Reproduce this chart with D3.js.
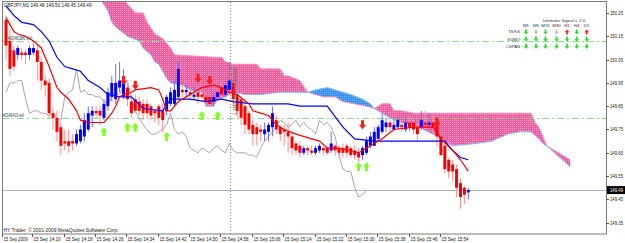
<!DOCTYPE html>
<html><head><meta charset="utf-8">
<script src="https://cdn.jsdelivr.net/npm/d3@7"></script>
<style>html,body{margin:0;padding:0;background:#fff;overflow:hidden}text{font-family:"Liberation Sans",Arial,sans-serif}</style>
</head><body>
<svg id="c" width="625" height="243"></svg>
<script>
const symbolTitle = "GBPJPY,M1 149.48 149.50 149.45 149.49";
const copyrightText = "HY Trader, \u00a9 2001-2009 MetaQuotes Software Corp.";
const open = [150.22,150.13,150.09,150.07,150.08,150.08,150.07,150.08,150.09,150.04,149.96,149.95,149.82,149.80,149.76,149.70,149.70,149.70,149.69,149.70,
149.72,149.75,149.81,149.83,149.83,149.80,149.85,149.89,149.88,149.93,149.89,149.93,149.87,149.88,149.87,149.86,149.86,149.85,149.83,149.85,
149.83,149.83,149.86,149.86,149.89,149.92,149.91,149.91,149.89,149.91,149.90,149.89,149.89,149.87,149.89,149.93,149.90,149.92,149.95,149.90,
149.88,149.85,149.82,149.77,149.76,149.75,149.73,149.74,149.76,149.79,149.76,149.75,149.74,149.72,149.69,149.68,149.65,149.67,149.66,149.65,
149.66,149.67,149.67,149.66,149.68,149.67,149.67,149.68,149.67,149.66,149.65,149.64,149.65,149.68,149.68,149.71,149.74,149.76,149.78,149.75,
149.76,149.77,149.75,149.78,149.78,149.76,149.76,149.78,149.77,149.78,149.77,149.72,149.68,149.62,149.60,149.58,149.52,149.50,149.48];
const high = [150.24,150.18,150.11,150.11,150.10,150.09,150.11,150.12,150.11,150.06,149.98,149.97,149.84,149.83,149.78,149.75,149.75,149.73,149.75,149.77,
149.82,149.85,149.85,149.85,149.85,149.88,149.93,149.98,150.03,150.04,150.01,149.95,149.90,149.90,149.89,149.88,149.88,149.86,149.84,149.86,
149.86,149.90,149.93,149.96,150.04,149.94,149.94,149.93,149.93,149.93,149.92,149.91,149.90,149.90,149.91,149.95,149.96,150.04,149.97,149.92,
149.89,149.88,149.83,149.79,149.78,149.77,149.78,149.78,149.85,149.81,149.77,149.77,149.78,149.74,149.70,149.70,149.68,149.68,149.68,149.68,
149.69,149.68,149.68,149.74,149.69,149.68,149.69,149.69,149.68,149.68,149.67,149.68,149.72,149.74,149.76,149.77,149.82,149.80,149.80,149.80,
149.81,149.79,149.81,149.80,149.80,149.78,149.83,149.83,149.82,149.81,149.79,149.74,149.69,149.63,149.62,149.60,149.54,149.51,149.50];
const low = [150.05,149.98,150.00,150.05,150.05,150.03,150.05,150.07,149.96,149.92,149.89,149.80,149.75,149.70,149.64,149.66,149.65,149.66,149.68,149.69,
149.70,149.74,149.76,149.80,149.77,149.79,149.83,149.87,149.86,149.91,149.88,149.85,149.80,149.82,149.81,149.79,149.80,149.79,149.78,149.77,
149.74,149.81,149.85,149.85,149.88,149.89,149.89,149.88,149.88,149.86,149.88,149.86,149.85,149.85,149.88,149.89,149.89,149.91,149.85,149.80,
149.77,149.73,149.73,149.68,149.68,149.70,149.70,149.70,149.72,149.73,149.70,149.68,149.65,149.64,149.64,149.63,149.64,149.64,149.64,149.64,
149.65,149.64,149.64,149.65,149.64,149.63,149.63,149.63,149.63,149.62,149.61,149.62,149.64,149.67,149.68,149.70,149.73,149.74,149.74,149.74,
149.75,149.74,149.74,149.74,149.73,149.70,149.75,149.75,149.75,149.73,149.68,149.64,149.56,149.54,149.53,149.46,149.41,149.43,149.45];
const close = [150.11,150.01,150.02,150.10,150.07,150.07,150.10,150.10,150.04,149.96,149.94,149.82,149.80,149.74,149.68,149.69,149.68,149.69,149.73,149.75,
149.79,149.82,149.83,149.82,149.81,149.86,149.91,149.95,149.95,149.96,149.96,149.88,149.82,149.83,149.83,149.82,149.82,149.81,149.82,149.80,
149.79,149.89,149.91,149.92,150.01,149.91,149.92,149.90,149.90,149.89,149.89,149.87,149.86,149.89,149.91,149.90,149.94,149.96,149.88,149.83,
149.80,149.77,149.75,149.73,149.73,149.74,149.75,149.77,149.82,149.75,149.73,149.74,149.72,149.67,149.66,149.65,149.67,149.66,149.65,149.67,
149.68,149.66,149.65,149.69,149.66,149.65,149.65,149.65,149.64,149.64,149.63,149.67,149.70,149.72,149.74,149.76,149.79,149.78,149.76,149.77,
149.79,149.76,149.78,149.76,149.75,149.73,149.79,149.77,149.78,149.76,149.72,149.64,149.58,149.57,149.57,149.50,149.46,149.47,149.49];

const timeLabelBars = [0,7,15,23,31,39,47,55,63,71,79,87,95,103,111];
const timeLabels = ["15 Sep 2009","15 Sep 14:10","15 Sep 14:18","15 Sep 14:26","15 Sep 14:34","15 Sep 14:42","15 Sep 14:50","15 Sep 14:58",
"15 Sep 15:06","15 Sep 15:14","15 Sep 15:22","15 Sep 15:30","15 Sep 15:38","15 Sep 15:46","15 Sep 15:54"];
const priceTicks = [150.25,150.15,150.05,149.95,149.85,149.75,149.65,149.55,149.45,149.35];

const tenkanBar = [0,2,3,5,7,9,11,13,14,16,18,19,21,23,25,27,28,29,30,32,33,37,39,40,41,42,44,46,50,53,55,57,59,62,63,65,67,69,71,74,78,80,82,85,88,90,91,93,96,99,104,109,111,114,116,118];
const tenkanVal = [150.23,150.17,150.16,150.15,150.13,150.10,150.02,149.93,149.91,149.88,149.83,149.79,149.78,149.78,149.78,149.82,149.85,149.89,149.90,149.91,149.92,149.93,149.92,149.88,149.83,149.83,149.87,149.89,149.93,149.94,149.93,149.91,149.90,149.86,149.83,149.82,149.81,149.77,149.75,149.73,149.71,149.70,149.67,149.67,149.66,149.65,149.66,149.68,149.71,149.75,149.76,149.76,149.71,149.66,149.62,149.57];
const kijunBar = [0,2,4,7,9,11,13,15,17,19,21,24,26,29,32,35,40,42,47,51,55,58,63,72,75,82,86,89,94,112,114,116,118];
const kijunVal = [150.28,150.24,150.21,150.20,150.17,150.13,150.06,150.02,150.01,150.00,149.96,149.93,149.90,149.89,149.89,149.84,149.83,149.88,149.88,149.87,149.88,149.87,149.86,149.86,149.85,149.85,149.76,149.71,149.70,149.70,149.66,149.63,149.62];
const chikouShift = 26;

const spanABar = [23,24,26,27,28,31,34,35,37,38,39,40,41,42,45,47,50,51,53,54,56,58,61,65,70,75,77,79,82,86,88,91,93,94,98,101,104,109,114,120,124,128,131,134,136,137,138,140,142,144];
const spanAVal = [150.33,150.31,150.26,150.21,150.19,150.15,150.13,150.10,150.07,150.04,150.03,150.00,149.97,149.95,149.94,149.92,149.91,149.85,149.85,149.88,149.89,149.91,149.90,149.90,149.91,149.91,149.91,149.92,149.93,149.91,149.90,149.88,149.86,149.84,149.80,149.78,149.77,149.73,149.68,149.69,149.70,149.73,149.74,149.74,149.71,149.69,149.68,149.65,149.62,149.59];
const spanBBar = [23,33,35,36,38,40,42,43,53,55,56,58,64,65,70,71,72,75,77,81,84,86,89,92,94,96,98,99,101,104,134,135,136,137,138,140,142,144];
const spanBVal = [150.44,150.25,150.25,150.21,150.16,150.14,150.10,150.07,150.06,150.06,150.04,150.03,150.03,150.01,150.01,149.98,149.98,149.96,149.91,149.89,149.89,149.87,149.86,149.85,149.84,149.86,149.86,149.83,149.83,149.82,149.82,149.78,149.76,149.72,149.68,149.66,149.64,149.62];

const sellArrowBar = [30,33,49,52,91,110];
const sellArrowPrice = [149.96,149.94,149.97,149.96,149.77,149.78];
const buyArrowBar = [25,31,33,41,50,54,90,92];
const buyArrowPrice = [149.74,149.76,149.76,149.72,149.81,149.81,149.59,149.59];

const orderLevels = [150.13,149.80];
const orderLabels = ["#2046386 sell","#2046419 sell"];
const lastPrice = 149.49;
const londonCloseBar = 57;
const londonCloseText = "London Close";

const signalTitle = "Ichimoku Signal v. 2.0";
const signalTimeframes = ["M1","M5","M15","M30","H1","H4","D1"];
const signalRows = ["TS/KS","KUMO","CSPAN"];
const signalTSKS = [1,0,1,0,-1,1,-1];
const signalKUMO = [1,1,1,1,1,1,1];
const signalCSPAN = [1,1,1,1,1,1,1];

// ---------- drawing ----------
const svg = d3.select("#c");
const W = 625, H = 243;
const P = {l:2, t:2, r:606, b:234};
const x = d3.scaleLinear().domain([0,118]).range([6, 6 + 118*3.918]);
const y = d3.scaleLinear().domain([149.35,150.25]).range([222.7,13]);

svg.append("rect").attr("width",W).attr("height",H).attr("fill","#ffffff");
const defs = svg.append("defs");
defs.append("clipPath").attr("id","plotClip").append("rect")
  .attr("x",P.l).attr("y",P.t).attr("width",P.r-P.l).attr("height",P.b-P.t);
function dots(id, base, dot){
  const p = defs.append("pattern").attr("id",id).attr("width",2).attr("height",2).attr("patternUnits","userSpaceOnUse");
  p.append("rect").attr("width",2).attr("height",2).attr("fill",base);
  p.append("rect").attr("width",1).attr("height",1).attr("fill",dot);
}
dots("pinkDots","#f5589f","#ff9acb");
dots("blueDots","#3493f2","#6ab4ff");

const plotG = svg.append("g").attr("clip-path","url(#plotClip)");

// cloud (kumo): spans evaluated through piecewise-linear d3 scales
const sA = d3.scaleLinear().domain(spanABar).range(spanAVal).clamp(true);
const sB = d3.scaleLinear().domain(spanBBar).range(spanBVal).clamp(true);
const cloudSteps = d3.range(spanABar[0], spanABar[spanABar.length-1] + 0.001, 0.25);
const pinkArea = d3.area().x(i=>x(i)).y0(i=>y(sA(i))).y1(i=>y(Math.max(sA(i),sB(i))));
const blueArea = d3.area().x(i=>x(i)).y0(i=>y(sA(i))).y1(i=>y(Math.min(sA(i),sB(i))));
plotG.append("path").attr("d",pinkArea(cloudSteps)).attr("fill","url(#pinkDots)");
plotG.append("path").attr("d",blueArea(cloudSteps)).attr("fill","url(#blueDots)");
const ln = d3.line().x(d=>x(d[0])).y(d=>y(d[1]));
const spanA = spanABar.map((b,i)=>[b,spanAVal[i]]);
const spanB = spanBBar.map((b,i)=>[b,spanBVal[i]]);
plotG.append("path").attr("d",ln(spanB)).attr("fill","none").attr("stroke","#f58cbf").attr("stroke-width",1);
plotG.append("path").attr("d",ln(spanA)).attr("fill","none").attr("stroke","#8ab8f5").attr("stroke-width",1);

// order lines
orderLevels.forEach((lv,i)=>{
  plotG.append("line").attr("x1",P.l).attr("x2",P.r).attr("y1",Math.round(y(lv))+0.5).attr("y2",Math.round(y(lv))+0.5)
    .attr("stroke","#8fd68f").attr("stroke-width",1).attr("stroke-dasharray","7,3,2,3");
});
// current price line
plotG.append("line").attr("x1",P.l).attr("x2",P.r).attr("y1",Math.round(y(lastPrice))+0.5).attr("y2",Math.round(y(lastPrice))+0.5)
  .attr("stroke","#a9b8d2").attr("stroke-width",1);
// london close vertical
plotG.append("line").attr("x1",Math.round(x(londonCloseBar))+1.5).attr("x2",Math.round(x(londonCloseBar))+1.5)
  .attr("y1",P.t).attr("y2",P.b).attr("stroke","#6f8a6f").attr("stroke-width",1).attr("stroke-dasharray","1,2");

// chikou
const chikou = close.map((c,i)=>[i-chikouShift,c]).filter(d=>d[0]>=0);
plotG.append("path").attr("d",ln(chikou)).attr("fill","none").attr("stroke","#a8a8a8").attr("stroke-width",1);

// candles
const bars = close.map((c,i)=>({i,o:open[i],h:high[i],l:low[i],c}));
const cg = plotG.append("g");
bars.forEach(d=>{
  const bull = d.c >= d.o;
  const cx = x(d.i);
  cg.append("line").attr("x1",cx).attr("x2",cx).attr("y1",y(d.h)).attr("y2",y(d.l))
    .attr("stroke", bull ? "#6b6bff" : "#ff8e8e").attr("stroke-width",1);
  const top = y(Math.max(d.o,d.c)), bot = y(Math.min(d.o,d.c));
  cg.append("rect").attr("x",cx-1.5).attr("width",3).attr("y",top).attr("height",Math.max(1,bot-top))
    .attr("fill", bull ? "#0000ff" : "#ff0000");
});

// tenkan & kijun
const tenkan = tenkanBar.map((b,i)=>[b,tenkanVal[i]]);
const kijun = kijunBar.map((b,i)=>[b,kijunVal[i]]);
plotG.append("path").attr("d",ln(kijun)).attr("fill","none").attr("stroke","#0000ff").attr("stroke-width",1.2);
plotG.append("path").attr("d",ln(tenkan)).attr("fill","none").attr("stroke","#ff0000").attr("stroke-width",1.2);

// arrows
const downArrow = "M-1.5,-4.5L1.5,-4.5L1.5,0L3.6,0L0,4.5L-3.6,0L-1.5,0Z";
const upArrow = "M-1.5,4.5L1.5,4.5L1.5,0L3.6,0L0,-4.5L-3.6,0L-1.5,0Z";
sellArrowBar.forEach((b,i)=>{
  plotG.append("path").attr("d",downArrow).attr("transform",`translate(${x(b)},${y(sellArrowPrice[i])})`).attr("fill","#ff1a1a");
});
buyArrowBar.forEach((b,i)=>{
  plotG.append("path").attr("d",upArrow).attr("transform",`translate(${x(b)},${y(buyArrowPrice[i])})`).attr("fill","#80ff20");
});

// labels inside plot
orderLevels.forEach((lv,i)=>{
  const lx = i===0 ? 8 : 3;
  svg.append("text").attr("x",lx).attr("y",y(lv)-1.2).attr("font-size",4.6).attr("fill","#404040")
    .attr("textLength",i===0?24:21).attr("lengthAdjust","spacingAndGlyphs").text(orderLabels[i]);
});
svg.append("text").attr("transform",`translate(${x(londonCloseBar)+7.5},115) rotate(-90)`)
  .attr("font-size",7).attr("fill","#5d705d").attr("textLength",48).attr("lengthAdjust","spacingAndGlyphs").text(londonCloseText);

svg.append("text").attr("x",3.5).attr("y",7.4).attr("font-size",5).attr("fill","#202020")
  .attr("textLength",88).attr("lengthAdjust","spacingAndGlyphs").text(symbolTitle);
svg.append("text").attr("x",3.5).attr("y",231.5).attr("font-size",4.8).attr("fill","#202020")
  .attr("textLength",115).attr("lengthAdjust","spacingAndGlyphs").text(copyrightText);

// signal panel
const colX = [526,536,545.5,556.5,567,576.7,586.7];
const rowY = [32,39.2,46.3];
svg.append("text").attr("x",564).attr("y",21.5).attr("text-anchor","middle").attr("font-size",4.4).attr("fill","#303030").text(signalTitle);
signalTimeframes.forEach((t,i)=>{
  svg.append("text").attr("x",colX[i]).attr("y",27).attr("text-anchor","middle").attr("font-size",4.4).attr("fill","#303030").text(t);
});
signalRows.forEach((r,i)=>{
  svg.append("text").attr("x",520).attr("y",rowY[i]+1.4).attr("text-anchor","end").attr("font-size",4.2).attr("fill","#303030").text(r);
});
const smallDown = "M-0.9,-2.6L0.9,-2.6L0.9,-0.3L2.4,-0.3L0,2.6L-2.4,-0.3L-0.9,-0.3Z";
const smallUp = "M-0.9,2.6L0.9,2.6L0.9,0.3L2.4,0.3L0,-2.6L-2.4,0.3L-0.9,0.3Z";
[signalTSKS,signalKUMO,signalCSPAN].forEach((row,ri)=>{
  row.forEach((s,ci)=>{
    svg.append("path").attr("d", s<0 ? smallUp : smallDown)
      .attr("transform",`translate(${colX[ci]},${rowY[ri]})`)
      .attr("fill", s>0 ? "#33dd33" : (s<0 ? "#ff2020" : "#c0c0c0"));
  });
});

// frame
svg.append("rect").attr("x",P.l+0.5).attr("y",P.t-0.5).attr("width",P.r-P.l).attr("height",P.b-P.t+0.5)
  .attr("fill","none").attr("stroke","#7a7a7a").attr("stroke-width",1);

// price axis
priceTicks.forEach(p=>{
  const yy = Math.round(y(p))+0.5;
  svg.append("line").attr("x1",P.r).attr("x2",P.r+3).attr("y1",yy).attr("y2",yy).attr("stroke","#555");
  svg.append("text").attr("x",610).attr("y",yy+1.8).attr("font-size",5).attr("fill","#202020")
    .attr("textLength",13).attr("lengthAdjust","spacingAndGlyphs").text(p.toFixed(2));
});
const ly = y(lastPrice);
svg.append("rect").attr("x",607).attr("y",ly-4).attr("width",18).attr("height",8).attr("fill","#000");
svg.append("text").attr("x",610).attr("y",ly+1.8).attr("font-size",5).attr("fill","#fff")
  .attr("textLength",13).attr("lengthAdjust","spacingAndGlyphs").text(lastPrice.toFixed(2));

// time axis
timeLabelBars.forEach((b,i)=>{
  const tx = i===0 ? 3 : Math.round(x(b));
  svg.append("line").attr("x1",tx-0.5).attr("x2",tx-0.5).attr("y1",P.b).attr("y2",P.b+3).attr("stroke","#555");
  svg.append("text").attr("x",tx+0.5).attr("y",241).attr("font-size",4.6).attr("fill","#202020")
    .attr("textLength",i===0?24:27).attr("lengthAdjust","spacingAndGlyphs").text(timeLabels[i]);
});
</script>
</body></html>
